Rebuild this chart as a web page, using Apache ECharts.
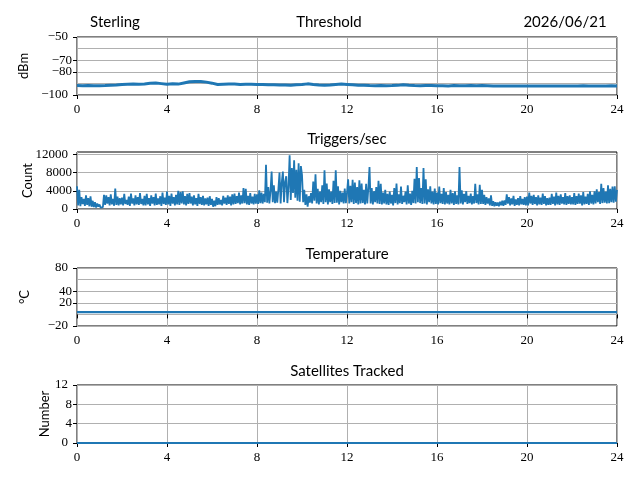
<!DOCTYPE html>
<html>
<head>
<meta charset="utf-8">
<script src="https://cdn.jsdelivr.net/npm/echarts@6/dist/echarts.min.js"></script>
<style>
  html, body { margin: 0; padding: 0; background: #fff; }
  #chart { width: 640px; height: 480px; }
</style>
</head>
<body>
<div id="chart"></div>
<script>
// threshold, dBm, one value every 15 minutes
var thresholdStep = 0.25;
var threshold = [
  -91.9,-92.0,-91.8,-92.0, -92.1,-91.9,-91.6,-91.4, -91.0,-90.8,-90.6,-90.7,
  -90.5,-89.9,-89.7,-90.2, -90.8,-90.4,-90.6,-89.6, -88.6,-88.3,-88.4,-88.9,
  -89.8,-91.0,-90.7,-90.5, -90.6,-90.9,-90.7,-90.8, -91.0,-90.9,-91.2,-91.1,
  -91.4,-91.3,-91.6,-91.2, -91.0,-90.4,-90.9,-91.3, -91.6,-91.4,-91.0,-90.6,
  -90.9,-91.2,-91.6,-91.5, -91.9,-92.1,-91.8,-92.0, -91.9,-91.7,-91.2,-91.6,
  -91.9,-92.0,-91.8,-91.9, -92.1,-92.0,-92.2,-91.9, -92.0,-92.1,-91.9,-92.0,
  -91.8,-92.0,-92.3,-92.2, -92.3,-92.2,-92.3,-92.3, -92.2,-92.3,-92.2,-92.3,
  -92.3,-92.2,-92.3,-92.2, -92.2,-92.3,-92.1,-92.2, -92.2,-92.3,-92.2,-92.1,
  -92.2
];

// triggers per second, one value every 3 minutes (20 per hour)
var triggerStep = 1 / 20;
var triggers = [
  5000,800,4200,600,2600,1100,2200,700,3000,900,2400,600,2800,500,1800,400,1500,300,1200,500,
  1000,300,700,400,3100,900,3000,1200,2600,800,3200,1000,2200,700,4500,900,2700,800,2400,1000,
  2500,800,3300,1100,2000,900,2700,700,3400,1200,2300,800,3000,1000,2600,900,3500,1100,2200,800,
  2900,800,3300,1000,2400,700,3000,1200,2600,800,3400,900,2300,1000,2800,700,3600,1100,2500,900,
  3800,1000,2900,700,3400,1200,2600,800,3100,1000,4000,900,3700,1200,3900,1000,2800,800,3300,1100,
  3500,1200,2700,800,3000,1000,2400,700,3300,1100,2600,900,2900,800,2300,1000,2500,700,2800,900,
  2200,500,1800,600,2600,900,2400,1000,2000,800,2900,1200,2500,900,3000,1100,2700,800,3200,1000,
  3400,1100,2800,1300,3600,1000,3000,1200,4600,1300,4400,1000,2900,900,3500,1200,2700,1000,3300,1200,
  3200,1100,4100,1300,3600,1200,3300,1500,9700,1400,4800,1200,3900,8200,1500,5200,1300,3800,1400,4300,
  8000,1200,5800,8200,1500,6000,7200,1300,4800,11800,2000,9000,3500,10700,2500,8600,1800,10000,1600,9400,
  7500,1500,4200,900,3200,500,2800,1400,3500,1200,6000,1800,7600,1200,4400,1000,3800,1500,5200,1100,
  8500,1500,5600,1000,4300,1500,3800,1100,6200,1300,8500,1400,5000,1000,4000,1500,3600,1200,4500,1300,
  3600,6500,1200,5100,1500,6400,1100,5800,1300,4800,1000,6300,1200,5600,1300,4200,1000,5500,1200,4600,
  9200,1200,4600,1000,3900,1500,4800,1200,6200,1100,5500,1000,3600,1200,4200,1000,3300,900,3800,1200,
  3100,800,4600,1300,5600,1000,3200,1300,4900,1100,2900,1500,3800,1000,5200,1200,3400,900,4000,1300,
  6600,1200,9200,1500,6800,1300,4600,1100,9000,1200,6500,1000,4300,1500,5000,1200,3800,1000,4500,1100,
  3600,1000,4900,1300,3300,1100,4600,1000,3700,1200,3100,1000,4200,1200,3500,900,3900,1100,3000,1000,
  9200,1200,4100,1000,3300,1500,3900,1100,2900,1300,3400,1000,2800,1200,5500,1300,3200,1000,5300,1100,
  4200,1100,3100,900,2600,1200,2300,800,3000,700,1700,600,1500,700,1400,600,1600,800,1800,700,
  1900,900,3200,1200,2600,800,2300,1000,2900,700,2100,900,2400,800,2800,1000,2200,900,2600,800,
  2700,800,3600,1200,2900,900,3100,1100,2600,800,3000,1000,2500,900,3400,1100,2800,800,2400,900,
  2500,900,3300,1100,2700,800,3600,1000,2900,900,3200,1200,2600,1000,3500,900,2800,1100,3000,1000,
  2600,1000,3500,900,2800,1100,3400,1200,3000,800,3700,1000,2700,1100,3300,900,3900,1200,3100,1000,
  3900,1200,4300,1500,3700,1100,5500,1300,4600,1400,3800,1200,5200,1300,4400,1500,4900,1400,5000,1600,
  4200
];

// temperature and satellites, hourly
var hourStep = 1;
var temperature = [4,4,4,4,4,4,4,4,4,4,4,4,4,4,4,4,4,4,4,4,4,4,4,4,4];
var satellites = [0,0,0,0,0,0,0,0,0,0,0,0,0,0,0,0,0,0,0,0,0,0,0,0,0];

// y tick values per panel
var thresholdTicks = [-100, -90, -80, -70, -60, -50];
var triggerTicks = [0, 4000, 8000, 12000];
var temperatureTicks = [-20, 0, 20, 40, 60, 80];
var satelliteTicks = [0, 4, 8, 12];
var hourTicks = [0, 4, 8, 12, 16, 20, 24];

var panels = [
  { name: 'dBm', min: -100, max: -50, ticks: thresholdTicks, gap: 47, top: 37, height: 58 },
  { name: 'Count', min: 0, max: 12500, ticks: triggerTicks, gap: 43, top: 152, height: 57 },
  { name: '\u00b0C', min: -20, max: 80, ticks: temperatureTicks, gap: 46, top: 268, height: 58 },
  { name: 'Number', min: 0, max: 12, ticks: satelliteTicks, gap: 26, top: 385, height: 58 }
];

function pairs(values, step) {
  return values.map(function (v, i) { return [i * step, v]; });
}

var blue = '#1f77b4';
var tickFont = { fontFamily: 'Liberation Serif', fontSize: 13, color: '#000' };
function minusSign(v) { return String(v).replace('-', '\u2212'); }

var chartDom = document.getElementById('chart');
var myChart = echarts.init(chartDom, null, { renderer: 'canvas' });

var grids = [], xAxes = [], yAxes = [];
panels.forEach(function (p, i) {
  grids.push({
    left: 77, right: 23, top: p.top, height: p.height,
    show: true, borderColor: '#000', borderWidth: 1, backgroundColor: 'transparent'
  });
  xAxes.push({
    type: 'value', gridIndex: i, min: 0, max: 24, interval: 4,
    axisLine: { show: false },
    axisTick: { show: true, length: 4, customValues: hourTicks, lineStyle: { color: '#000' } },
    axisLabel: Object.assign({ margin: 8, customValues: hourTicks }, tickFont),
    splitLine: { show: true, lineStyle: { color: '#b0b0b0', width: 1 } }
  });
  yAxes.push({
    type: 'value', gridIndex: i, min: p.min, max: p.max,
    interval: p.ticks[1] - p.ticks[0],
    name: p.name, nameLocation: 'middle', nameGap: p.gap, nameRotate: 90,
    nameTextStyle: { fontFamily: 'Lato', fontSize: 13, color: '#000' },
    axisLine: { show: false },
    axisTick: { show: true, length: 4, customValues: p.ticks, lineStyle: { color: '#000' } },
    axisLabel: Object.assign({ margin: 5, customValues: p.ticks.slice(1, -1), formatter: minusSign }, tickFont),
    splitLine: { show: true, lineStyle: { color: '#b0b0b0', width: 1 } }
  });
});

function lineSeries(i, data, width) {
  return {
    type: 'line', xAxisIndex: i, yAxisIndex: i, data: data,
    showSymbol: false, symbol: 'none', animation: false,
    lineStyle: { color: blue, width: width }
  };
}

var titleStyle = { fontFamily: 'Lato', fontSize: 15, fill: '#000', textAlign: 'center', textVerticalAlign: 'middle' };
function label(x, y, text) {
  return { type: 'text', x: x, y: y, style: Object.assign({ text: text }, titleStyle) };
}

var titles = [
  label(115, 22, 'Sterling'),
  label(329, 22, 'Threshold'),
  label(565, 22, '2026/06/21'),
  label(347, 139, 'Triggers/sec'),
  label(347, 254, 'Temperature'),
  label(347, 371, 'Satellites Tracked')
];

var option = {
  animation: false,
  grid: grids,
  xAxis: xAxes,
  yAxis: yAxes,
  series: [
    lineSeries(0, pairs(threshold, thresholdStep), 3),
    lineSeries(1, pairs(triggers, triggerStep), 1.8),
    lineSeries(2, pairs(temperature, hourStep), 2.2),
    lineSeries(3, pairs(satellites, hourStep), 2.2)
  ],
  graphic: titles
};

myChart.setOption(option);

// the end tick labels of each y axis get hidden by the label layout, so place
// them through the axis scale as plain texts
var endLabels = [];
panels.forEach(function (p, i) {
  [p.ticks[0], p.ticks[p.ticks.length - 1]].forEach(function (v) {
    var y = myChart.convertToPixel({ yAxisIndex: i }, v);
    endLabels.push({
      type: 'text', x: 77 - 9, y: y,
      style: {
        text: minusSign(v), fontFamily: 'Liberation Serif', fontSize: 13, fill: '#000',
        textAlign: 'right', textVerticalAlign: 'middle'
      }
    });
  });
});
myChart.setOption({ graphic: titles.concat(endLabels) });
</script>
</body>
</html>
